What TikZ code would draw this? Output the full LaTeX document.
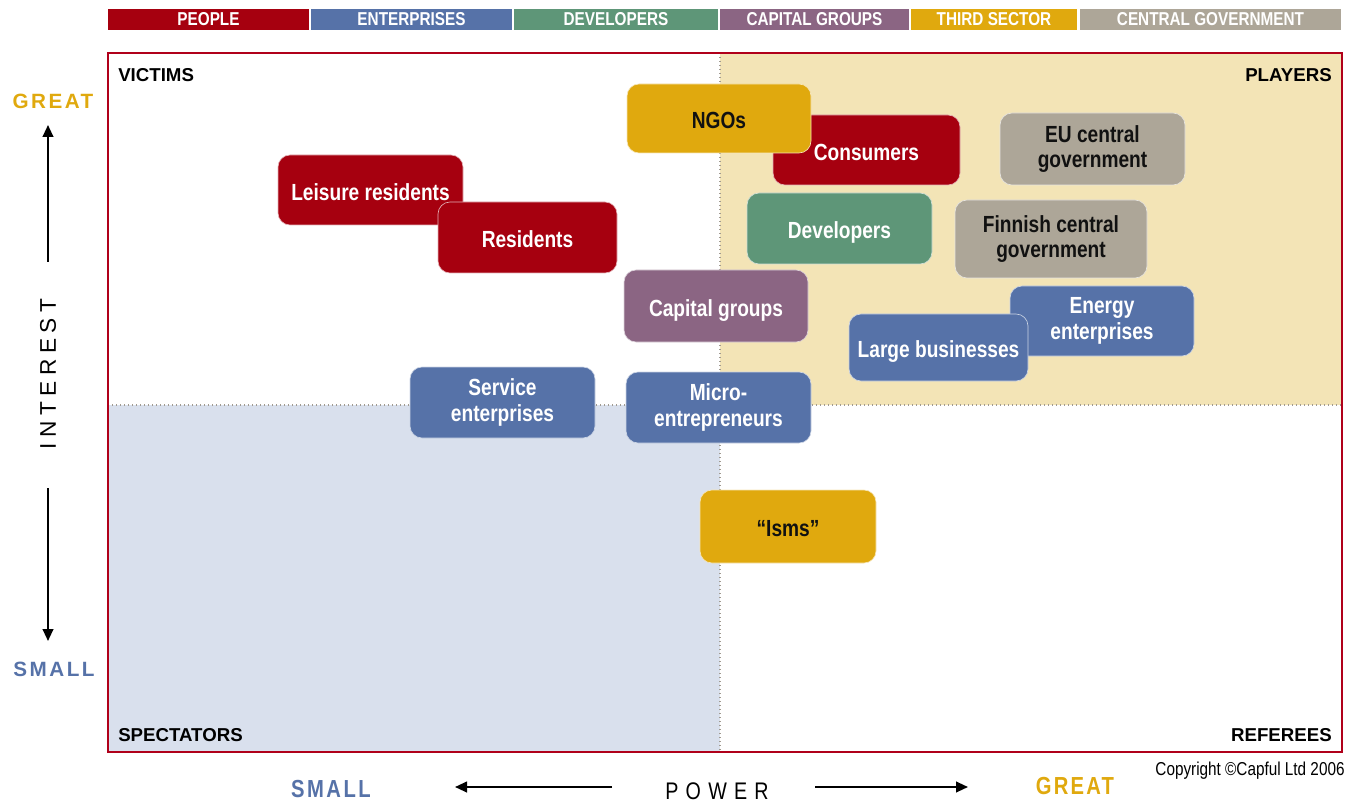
\documentclass[tikz,border=0pt]{standalone}
\usepackage{fontspec}
\setmainfont{Liberation Sans}
\newfontfamily\cnd[FakeStretch=0.82]{Liberation Sans}
\usetikzlibrary{arrows.meta}
\definecolor{cRed}{HTML}{A6000F}
\definecolor{cBlue}{HTML}{5672A8}
\definecolor{cGreen}{HTML}{5E9678}
\definecolor{cPurple}{HTML}{8B6583}
\definecolor{cGold}{HTML}{E0A90E}
\definecolor{cGrey}{HTML}{ADA698}
\definecolor{cYellowBg}{HTML}{F3E4B6}
\definecolor{cBlueBg}{HTML}{D9E0ED}
\definecolor{cFrame}{HTML}{B0001A}
\definecolor{cDot}{HTML}{A09A90}
\definecolor{cDark}{HTML}{111111}
\begin{document}
\begin{tikzpicture}[x=0.75pt,y=-0.75pt,
  sz/.style 2 args={minimum width=#1*0.75pt, minimum height=#2*0.75pt},
  legend/.style={fill=#1, draw=none, inner sep=0, text=white,
    font=\cnd\bfseries\fontsize{14}{16}\selectfont},
  box/.style={rounded corners=9pt, fill=#1, draw=white!70!#1, line width=0.5pt,
    text=white, align=center, inner sep=0,
    font=\cnd\bfseries\fontsize{17.5}{19.2}\selectfont},
  oneline/.style={text height=15.5pt, text depth=0pt},
  darktext/.style={text=cDark},
  quad/.style={inner sep=0, font=\bfseries\fontsize{14}{16}\selectfont},
  axarrow/.style={line width=1.5pt, -{Triangle[length=9pt,width=8pt]}},
  dotline/.style={cDot, line width=1pt, dash pattern=on 1pt off 2pt}
]
\useasboundingbox (0,0) rectangle (1360,802);
% legend
\node[legend=cRed, sz={201}{21}] (lgA) at (208.5,19.5) {PEOPLE};
\node[legend=cBlue, sz={201}{21}] (lgB) at (411.5,19.5) {ENTERPRISES};
\node[legend=cGreen, sz={204}{21}] (lgC) at (616,19.5) {DEVELOPERS};
\node[legend=cPurple, sz={189}{21}] (lgD) at (814.5,19.5) {CAPITAL GROUPS};
\node[legend=cGold, sz={166}{21}] (lgE) at (994,19.5) {THIRD SECTOR};
\node[legend=cGrey, sz={261}{21}] (lgF) at (1210.5,19.5) {CENTRAL GOVERNMENT};
% quadrants
\fill[cYellowBg] (720,53) rectangle (1342,405);
\fill[cBlueBg] (108,405) rectangle (720,752);
\draw[dotline] (720,53) -- (720,752);
\draw[dotline] (108,405) -- (1342,405);
\draw[cFrame, line width=1.6pt] (108,53) rectangle (1342,752);
\node[quad, anchor=west] (qVictims) at (118,75) {VICTIMS};
\node[quad, anchor=east] (qPlayers) at (1332,75) {PLAYERS};
\node[quad, anchor=west] (qSpect) at (118,735) {SPECTATORS};
\node[quad, anchor=east] (qRef) at (1332,735) {REFEREES};
% boxes
\node[box=cRed, oneline, sz={187}{70}] (consumers) at (866.5,150) {Consumers};
\node[box=cGold, oneline, darktext, sz={184}{69}] (ngos) at (719,118.5) {NGOs};
\node[box=cGrey, darktext, sz={185}{72}] (eu) at (1092.5,149) {EU central\\government};
\node[box=cRed, oneline, sz={185}{70}] (leisure) at (370.5,190) {Leisure residents};
\node[box=cRed, oneline, sz={179}{71}] (residents) at (527.5,237.5) {Residents};
\node[box=cGreen, oneline, sz={185}{71}] (developers) at (839.5,228.5) {Developers};
\node[box=cGrey, darktext, sz={192}{78}] (finnish) at (1051,239) {Finnish central\\government};
\node[box=cPurple, oneline, sz={184}{72}] (capital) at (716,306) {Capital groups};
\node[box=cBlue, sz={184}{70}] (energy) at (1102,321) {Energy\\enterprises};
\node[box=cBlue, oneline, sz={179}{67}] (large) at (938.5,347.5) {Large businesses};
\node[box=cBlue, sz={185}{71}] (service) at (502.5,402.5) {Service\\enterprises};
\node[box=cBlue, sz={185}{71}] (micro) at (718.5,407.5) {Micro-\\entrepreneurs};
\node[box=cGold, oneline, darktext, sz={176}{73}] (isms) at (788,526.5) {“Isms”};
% left axis
\node[inner sep=0, text=cGold, font=\bfseries\fontsize{15.5}{17}\selectfont\addfontfeature{LetterSpace=12}] (greatL) at (53,101) {GREAT};
\node[inner sep=0, text=cBlue, font=\bfseries\fontsize{15.5}{17}\selectfont\addfontfeature{LetterSpace=12}] (smallL) at (54,669) {SMALL};
\node[inner sep=0, rotate=90, font=\fontsize{17}{19}\selectfont\addfontfeature{LetterSpace=24}] (interest) at (48,374) {INTEREST};
\coordinate (upS) at (48,262);
\coordinate (upE) at (48,125);
\coordinate (dnS) at (48,488);
\coordinate (dnE) at (48,641);
\draw[axarrow] (upS) -- (upE);
\draw[axarrow] (dnS) -- (dnE);
% bottom axis
\node[inner sep=0, text=cBlue, font=\cnd\bfseries\fontsize{18.5}{20}\selectfont\addfontfeature{LetterSpace=10}] (smallB) at (331,789.5) {SMALL};
\node[inner sep=0, text=cGold, font=\cnd\bfseries\fontsize{18.5}{20}\selectfont\addfontfeature{LetterSpace=9}] (greatB) at (1075,786) {GREAT};
\node[inner sep=0, font=\cnd\fontsize{18}{20}\selectfont\addfontfeature{LetterSpace=30}] (power) at (717,791) {POWER};
\coordinate (ltS) at (612,787);
\coordinate (ltE) at (455,787);
\coordinate (rtS) at (815,787);
\coordinate (rtE) at (968,787);
\draw[axarrow] (ltS) -- (ltE);
\draw[axarrow] (rtS) -- (rtE);
\node[inner sep=0, font=\cnd\fontsize{14}{16}\selectfont] (copy) at (1250,771) {Copyright \textcopyright Capful Ltd 2006};
\end{tikzpicture}
\end{document}
